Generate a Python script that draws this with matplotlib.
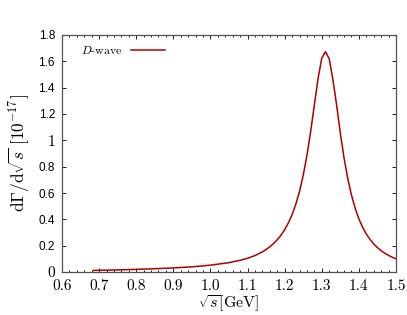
import matplotlib
matplotlib.use("Agg")
import matplotlib.pyplot as plt
from matplotlib.ticker import FixedLocator, MultipleLocator

# data
sqrt_s = [0.685, 0.72, 0.75, 0.80, 0.85, 0.90, 0.95, 1.00, 1.05, 1.08,
          1.10, 1.12, 1.14, 1.15, 1.16, 1.17, 1.18, 1.19, 1.20, 1.21,
          1.22, 1.23, 1.24, 1.25, 1.26, 1.27, 1.28, 1.29, 1.30, 1.31,
          1.32, 1.33, 1.34, 1.35, 1.36, 1.37, 1.38, 1.39, 1.40, 1.41,
          1.42, 1.43, 1.44, 1.45, 1.46, 1.47, 1.48, 1.49, 1.50]
rate = [0.012, 0.014, 0.016, 0.020, 0.025, 0.031, 0.039, 0.052, 0.071, 0.089,
        0.104, 0.125, 0.153, 0.171, 0.191, 0.216, 0.245, 0.279, 0.322, 0.373,
        0.435, 0.514, 0.612, 0.735, 0.886, 1.066, 1.270, 1.470, 1.625, 1.673,
        1.620, 1.460, 1.267, 1.054, 0.866, 0.710, 0.584, 0.483, 0.403, 0.340,
        0.288, 0.247, 0.213, 0.185, 0.162, 0.142, 0.126, 0.112, 0.100]

x_ticks = [0.6, 0.7, 0.8, 0.9, 1.0, 1.1, 1.2, 1.3, 1.4, 1.5]
x_labels = ["0.6", "0.7", "0.8", "0.9", "1.0", "1.1", "1.2", "1.3", "1.4", "1.5"]
y_ticks = [0, 0.2, 0.4, 0.6, 0.8, 1.0, 1.2, 1.4, 1.6, 1.8]
y_labels = ["0", "0.2", "0.4", "0.6", "0.8", "1", "1.2", "1.4", "1.6", "1.8"]

plt.rcParams["mathtext.fontset"] = "cm"
plt.rcParams["axes.unicode_minus"] = False

fig = plt.figure(figsize=(4.07, 3.15), dpi=100)
ax = fig.add_axes([0.1523, 0.1365, 0.8207, 0.7524])

ax.plot(sqrt_s, rate, color="#ac0000", lw=1.1, label=r"$D$-wave")

ax.set_xlim(0.6, 1.5)
ax.set_ylim(0, 1.8)

ax.xaxis.set_major_locator(FixedLocator(x_ticks))
ax.set_xticklabels(x_labels, fontfamily="cmr10", fontsize=11)
ax.xaxis.set_minor_locator(MultipleLocator(0.02))
ax.yaxis.set_major_locator(FixedLocator(y_ticks))
ax.set_yticklabels(y_labels)
for lab in ax.get_yticklabels():
    if "." in lab.get_text():
        lab.set_fontfamily("Liberation Sans")
        lab.set_fontsize(8.5)
    else:
        lab.set_fontfamily("cmr10")
        lab.set_fontsize(11)

ax.tick_params(which="both", direction="in", top=True, right=True,
               color="#202020", width=0.7)
ax.tick_params(which="major", length=3, pad=5)
ax.tick_params(which="minor", length=1.6)
for sp in ax.spines.values():
    sp.set_color("#505050")
    sp.set_linewidth(0.9)

ax.set_xlabel(r"$\sqrt{s}[\mathrm{GeV}]$", fontsize=11.5, va="bottom")
ax.xaxis.set_label_coords(0.5, -0.176)
ax.set_ylabel(r"$\mathrm{d}\Gamma/\mathrm{d}\sqrt{s}\ [10^{-17}]$",
              fontsize=12.5, labelpad=5)

leg = ax.legend(loc="upper left", frameon=False, markerfirst=False,
                prop={"family": "cmr10", "size": 8.5},
                handlelength=2.9, handletextpad=0.75,
                bbox_to_anchor=(0.025, 1.008))

fig.savefig("out.png", dpi=100)
